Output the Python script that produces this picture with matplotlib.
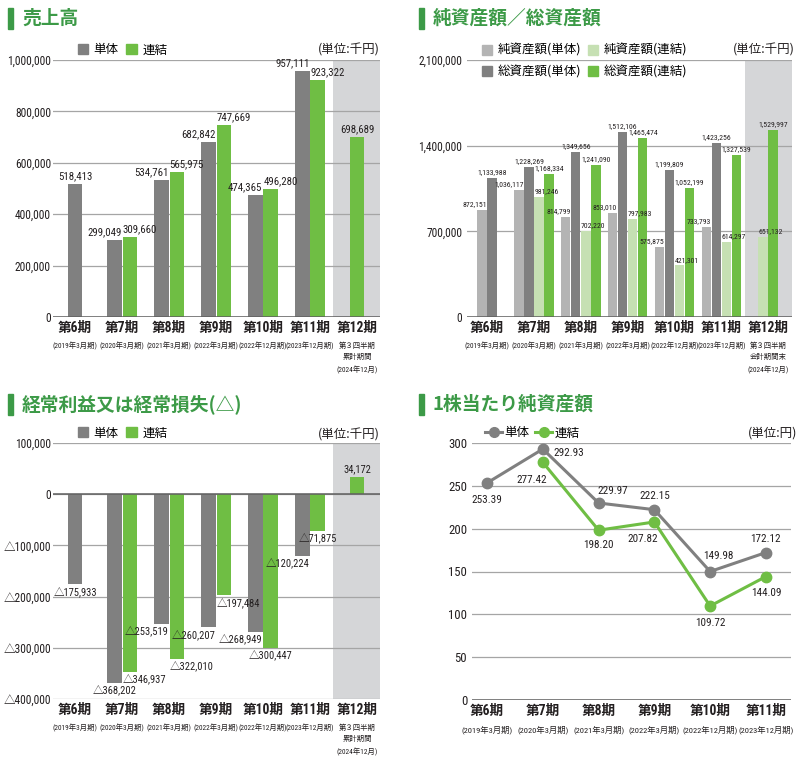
import matplotlib
matplotlib.use('Agg')
from matplotlib import pyplot as plt
from matplotlib.patches import Patch, Rectangle
from matplotlib.lines import Line2D
from matplotlib.transforms import blended_transform_factory

# condensed latin for numbers, CJK fallback for the rest
plt.rcParams['font.family'] = ['Roboto Condensed', 'Archivo Narrow', 'Noto Sans CJK JP', 'DejaVu Sans']
JP = ['Noto Sans CJK JP', 'DejaVu Sans']

# ---- data ----
periods = ['第6期', '第7期', '第8期', '第9期', '第10期', '第11期', '第12期']
period_notes = ['(2019年3月期)', '(2020年3月期)', '(2021年3月期)', '(2022年3月期)',
                '(2022年12月期)', '(2023年12月期)']
note12_sales = '第３四半期\n累計期間\n(2024年12月)'
note12_assets = '第３四半期\n会計期間末\n(2024年12月)'

sales_single = [518413, 299049, 534761, 682842, 474365, 957111, None]
sales_consol = [None, 309660, 565975, 747669, 496280, 923322, 698689]

net_single = [872151, 1036117, 814799, 853010, 575875, 733793, None]
total_single = [1133988, 1228269, 1349656, 1512106, 1199809, 1423256, None]
net_consol = [None, 981246, 702220, 797983, 421301, 614297, 651132]
total_consol = [None, 1168334, 1241090, 1465474, 1052199, 1327539, 1529997]

ord_single = [-175933, -368202, -253519, -260207, -268949, -120224, None]
ord_consol = [None, -346937, -322010, -197484, -300447, -71875, 34172]

bps_single = [253.39, 292.93, 229.97, 222.15, 149.98, 172.12]
bps_consol = [None, 277.42, 198.20, 207.82, 109.72, 144.09]

# ---- style ----
GRAY = '#808080'
GREEN = '#6fbe44'
LGRAY = '#b4b4b4'
LGREEN = '#c6e0b3'
SHADE = '#d5d6d8'
TGREEN = '#3c9a47'
GRID = '#a5a5a5'
TEXT = '#231f20'


def fmt(v):
    return ('△' if v < 0 else '') + f'{abs(v):,}'


def setup(ax, ticks, lim, tick_fs, pad):
    ax.set_ylim(*lim)
    ax.set_yticks(ticks)
    ax.set_yticklabels([fmt(t) for t in ticks])
    ax.tick_params(axis='y', length=0, labelsize=tick_fs, pad=pad, labelcolor=TEXT)
    ax.set_xticks([])
    ax.yaxis.grid(True, color=GRID, lw=0.9)
    ax.set_axisbelow(True)
    for s in ax.spines.values():
        s.set_visible(False)
    ax.axhline(0, color='#606060', lw=1.1, zorder=3)


def xlabels(ax, n, note12=None, fs_main=9.8, fs_note=5.3):
    tr = blended_transform_factory(ax.transData, ax.transAxes)
    for i in range(n):
        ax.annotate(periods[i], xy=(i, 0), xycoords=tr, xytext=(0, -3), textcoords='offset points',
                    ha='center', va='top', fontsize=fs_main, fontweight='bold', color=TEXT,
                    annotation_clip=False)
        note = period_notes[i] if i < len(period_notes) else note12
        ax.annotate(note, xy=(i, 0), xycoords=tr, xytext=(0, -18), textcoords='offset points',
                    ha='center', va='top', fontsize=fs_note, color=TEXT, linespacing=1.85,
                    annotation_clip=False)


def draw_groups(ax, series, colors, step, width):
    xs = [[None] * len(s) for s in series]
    for i in range(len(series[0])):
        present = [k for k in range(len(series)) if series[k][i] is not None]
        for j, k in enumerate(present):
            x = i + (j - (len(present) - 1) / 2) * step
            ax.bar(x, series[k][i], width, color=colors[k], zorder=2)
            xs[k][i] = x
    return xs


def label_bars(ax, series, xs, aligns, width, fs):
    for k, s in enumerate(series):
        for i, v in enumerate(s):
            if v is None:
                continue
            alone = sum(1 for t in series if t[i] is not None) == 1
            ha = aligns[k] if isinstance(aligns[k], str) else aligns[k][i]
            if alone:
                ha = 'center'
            x = xs[k][i]
            if ha == 'right':
                x += width / 2
            elif ha == 'left':
                x -= width / 2
            ax.annotate(fmt(v), xy=(x, v), xytext=(0, 2 if v >= 0 else -2), textcoords='offset points',
                        ha=ha, va='bottom' if v >= 0 else 'top', fontsize=fs, color=TEXT,
                        zorder=5, annotation_clip=False)


def title(x_px, y_px, text):
    fig.patches.append(Rectangle((x_px / W, 1 - (y_px + 11) / H), 5 / W, 21 / H,
                                 transform=fig.transFigure, color=TGREEN))
    fig.text((x_px + 14) / W, 1 - y_px / H, text, fontsize=13.5, fontweight='bold',
             color=TGREEN, va='center', ha='left', family=JP)


def unit(ax, text, x=1.0, y=1.039):
    ax.text(x, y, text, transform=ax.transAxes, ha='right', va='center', fontsize=9,
            color=TEXT, family=JP)


W, H = 802, 772
fig = plt.figure(figsize=(W / 100, H / 100), dpi=100)

# ---- 売上高 ----
ax1 = fig.add_axes([53 / W, 1 - 317 / H, 327 / W, 257 / H])
ax1.axvspan(5.5, 7, color=SHADE, zorder=0, lw=0)
setup(ax1, [0, 200000, 400000, 600000, 800000, 1000000], (0, 1000000), 8.3, 1.5)
xs = draw_groups(ax1, [sales_single, sales_consol], [GRAY, GREEN], 0.33, 0.31)
label_bars(ax1, [sales_single, sales_consol], xs, ['right', 'left'], 0.31, 7.8)
ax1.set_xlim(-0.47, 6.49)
xlabels(ax1, 7, note12_sales)
ax1.legend(handles=[Patch(color=GRAY), Patch(color=GREEN)], labels=['単体', '連結'],
           ncol=2, loc='center left', bbox_to_anchor=(0.075, 1.039), frameon=False,
           prop={'family': JP, 'size': 9}, handlelength=0.85, handleheight=0.85,
           handletextpad=0.45, columnspacing=0.6, borderpad=0, borderaxespad=0)
unit(ax1, '(単位:千円)')
title(8, 18, '売上高')

# ---- 純資産額／総資産額 ----
ax2 = fig.add_axes([467 / W, 1 - 317 / H, 325 / W, 257 / H])
ax2.axvspan(5.51, 7, color=SHADE, zorder=0, lw=0)
setup(ax2, [0, 700000, 1400000, 2100000], (0, 2100000), 8.3, 3.5)
s2 = [net_single, total_single, net_consol, total_consol]
xs = draw_groups(ax2, s2, [LGRAY, GRAY, LGREEN, GREEN], 0.215, 0.2)
label_bars(ax2, s2, xs, ['right', 'center', 'left', 'center'], 0.2, 5.6)
ax2.set_xlim(-0.43, 6.51)
xlabels(ax2, 7, note12_assets)
ax2.legend(handles=[Patch(color=LGRAY), Patch(color=GRAY), Patch(color=LGREEN), Patch(color=GREEN)],
           labels=['純資産額(単体)', '総資産額(単体)', '純資産額(連結)', '総資産額(連結)'],
           ncol=2, loc='center left', bbox_to_anchor=(0.045, 0.996), frameon=False,
           prop={'family': JP, 'size': 9}, handlelength=0.85, handleheight=0.85,
           handletextpad=0.45, columnspacing=0.5, labelspacing=0.65, borderpad=0, borderaxespad=0)
unit(ax2, '(単位:千円)', x=1.01)
title(419, 18, '純資産額／総資産額')

# ---- 経常利益又は経常損失 ----
ax3 = fig.add_axes([53 / W, 1 - 699 / H, 327 / W, 256 / H])
ax3.axvspan(5.5, 7, color=SHADE, zorder=0, lw=0)
setup(ax3, [-400000, -300000, -200000, -100000, 0, 100000], (-400000, 100000), 8.3, 1.5)
xs = draw_groups(ax3, [ord_single, ord_consol], [GRAY, GREEN], 0.33, 0.31)
label_bars(ax3, [ord_single, ord_consol], xs,
           [['center', 'center', 'right', 'right', 'right', 'right', 'center'],
            ['center', 'left', 'left', 'left', 'center', 'center', 'center']], 0.31, 7.6)
ax3.set_xlim(-0.47, 6.49)
xlabels(ax3, 7, note12_sales)
ax3.legend(handles=[Patch(color=GRAY), Patch(color=GREEN)], labels=['単体', '連結'],
           ncol=2, loc='center left', bbox_to_anchor=(0.075, 1.039), frameon=False,
           prop={'family': JP, 'size': 9}, handlelength=0.85, handleheight=0.85,
           handletextpad=0.45, columnspacing=0.6, borderpad=0, borderaxespad=0)
unit(ax3, '(単位:千円)', y=1.03)
title(8, 404, '経常利益又は経常損失(△)')

# ---- 1株当たり純資産額 ----
ax4 = fig.add_axes([472 / W, 1 - 700 / H, 319 / W, 257 / H])
ax4.set_ylim(0, 300)
ax4.set_yticks([0, 50, 100, 150, 200, 250, 300])
ax4.tick_params(axis='y', length=0, labelsize=9.2, pad=3.5, labelcolor=TEXT)
ax4.set_xticks([])
ax4.yaxis.grid(True, color=GRID, lw=0.9)
ax4.set_axisbelow(True)
for s in ax4.spines.values():
    s.set_visible(False)
ax4.axhline(0, color='#606060', lw=1.1, zorder=1)
idx = list(range(len(bps_single)))
ax4.plot(idx, bps_single, color=GRAY, lw=2.2, marker='o', ms=7.5, zorder=3)
cx = [i for i, v in zip(idx, bps_consol) if v is not None]
cv = [v for v in bps_consol if v is not None]
ax4.plot(cx, cv, color=GREEN, lw=2.2, marker='o', ms=7.5, zorder=3)
off_single = [(0, -12), (19, -3), (10, 8.5), (0, 10), (6, 11), (0, 10)]
off_consol = [None, (-8, -13), (0, -11), (-8.5, -12), (0, -12), (0, -12)]
for i, v in enumerate(bps_single):
    ax4.annotate(f'{v:.2f}', xy=(i, v), xytext=off_single[i], textcoords='offset points',
                 ha='center', va='center', fontsize=8, color=TEXT, annotation_clip=False)
for i, v in enumerate(bps_consol):
    if v is None:
        continue
    ax4.annotate(f'{v:.2f}', xy=(i, v), xytext=off_consol[i], textcoords='offset points',
                 ha='center', va='center', fontsize=8, color=TEXT, annotation_clip=False)
ax4.set_xlim(-0.27, 5.45)
xlabels(ax4, 6, fs_note=6.0)
ax4.legend(handles=[Line2D([], [], color=GRAY, lw=2.2, marker='o', ms=7),
                    Line2D([], [], color=GREEN, lw=2.2, marker='o', ms=7)],
           labels=['単体', '連結'], ncol=2, loc='center left', bbox_to_anchor=(0.04, 1.039),
           frameon=False, prop={'family': JP, 'size': 9}, handlelength=1.4,
           handletextpad=0.2, columnspacing=0.4, borderpad=0, borderaxespad=0)
unit(ax4, '(単位:円)', x=1.02, y=1.039)
title(419, 404, '1株当たり純資産額')

fig.savefig('out.png', dpi=100)
